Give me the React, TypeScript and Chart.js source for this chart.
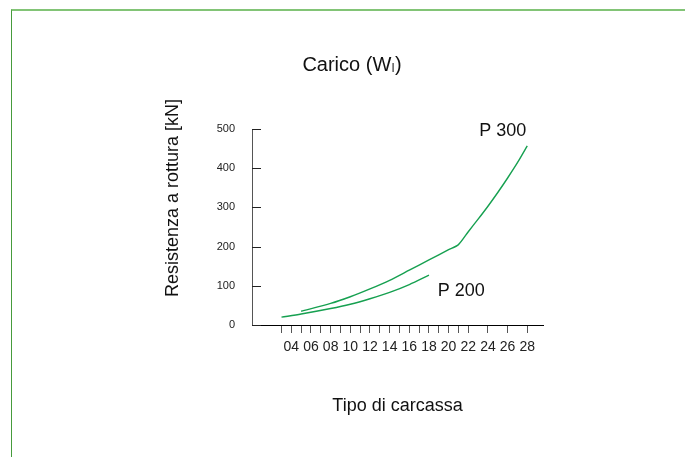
import React, { useEffect, useRef } from "react";
import { Chart, registerables } from "chart.js";

Chart.register(...registerables);

// ---- data ----
const P300_X = [5, 8, 10, 12, 14, 16, 18, 20, 21, 22, 23, 24, 25, 26, 27, 28];
const P300_Y = [35, 55, 72, 92, 114, 140, 166, 192, 205, 238, 270, 303, 338, 375, 414, 457];
const P200_X = [3, 5, 8, 10, 12, 14, 16, 18];
const P200_Y = [20, 28, 42, 53, 67, 83, 103, 127];
const X_TICKS = [3, 4, 5, 6, 7, 8, 9, 10, 11, 12, 13, 14, 15, 16, 17, 18, 19, 20, 21, 22, 24, 26, 28];
const Y_TICKS = [0, 100, 200, 300, 400, 500];

const TITLE_MAIN = "Carico (W";
const TITLE_SUB = "l";
const TITLE_END = ")";
const Y_TITLE = "Resistenza a rottura [kN]";
const X_TITLE = "Tipo di carcassa";
const LABEL_P300 = "P 300";
const LABEL_P200 = "P 200";

const GREEN = "rgb(22,160,80)";
const SANS = '"Liberation Sans", Arial, Helvetica, sans-serif';
const NARROW = '"Liberation Sans Narrow", "Arial Narrow", "Liberation Sans", sans-serif';

const yTickPlugin = {
  id: "innerYTicks",
  afterDatasetsDraw(chart: any) {
    const { ctx, chartArea, scales } = chart;
    const y = scales.y;
    ctx.save();
    ctx.strokeStyle = "#222";
    ctx.lineWidth = 1;
    ctx.beginPath();
    Y_TICKS.forEach((v) => {
      const py = Math.round(y.getPixelForValue(v)) + 0.5;
      ctx.moveTo(chartArea.left, py);
      ctx.lineTo(chartArea.left + 9, py);
    });
    ctx.stroke();
    ctx.restore();
  },
};

const textPlugin = {
  id: "annotText",
  afterDraw(chart: any) {
    const { ctx, chartArea, scales } = chart;
    const x = scales.x;
    const y = scales.y;
    ctx.save();
    ctx.fillStyle = "#111";
    ctx.textBaseline = "alphabetic";

    // curve labels
    ctx.font = "18px " + SANS;
    ctx.textAlign = "right";
    ctx.fillText(LABEL_P300, x.getPixelForValue(27.9), y.getPixelForValue(483));
    ctx.textAlign = "left";
    ctx.fillText(LABEL_P200, x.getPixelForValue(18.9), y.getPixelForValue(75));

    // title with subscript
    const big = "20px " + SANS;
    const small = "12px " + SANS;
    ctx.font = big;
    const w1 = ctx.measureText(TITLE_MAIN).width;
    const w3 = ctx.measureText(TITLE_END).width;
    ctx.font = small;
    const w2 = ctx.measureText(TITLE_SUB).width + 1;
    const total = w1 + w2 + w3;
    const cx = chartArea.left + 100;
    const by = chartArea.top - 58;
    let sx = cx - total / 2;
    ctx.textAlign = "left";
    ctx.font = big;
    ctx.fillText(TITLE_MAIN, sx, by);
    sx += w1;
    ctx.font = small;
    ctx.fillText(TITLE_SUB, sx + 0.5, by + 1);
    sx += w2;
    ctx.font = big;
    ctx.fillText(TITLE_END, sx, by);

    // axis titles
    ctx.font = "18px " + SANS;
    ctx.textAlign = "center";
    ctx.fillText(X_TITLE, (chartArea.left + chartArea.right) / 2, chartArea.bottom + 86);

    ctx.translate(chartArea.left - 74, chartArea.top + 69);
    ctx.rotate(-Math.PI / 2);
    ctx.fillText(Y_TITLE, 0, 0);
    ctx.restore();
  },
};

export default function App() {
  const ref = useRef<HTMLCanvasElement | null>(null);

  useEffect(() => {
    if (!ref.current) return;
    const chart = new Chart(ref.current, {
      type: "scatter",
      data: {
        datasets: [
          {
            label: LABEL_P300,
            data: P300_X.map((v, i) => ({ x: v, y: P300_Y[i] })),
            showLine: true,
            borderColor: GREEN,
            borderWidth: 1.4,
            pointRadius: 0,
            tension: 0.25,
          },
          {
            label: LABEL_P200,
            data: P200_X.map((v, i) => ({ x: v, y: P200_Y[i] })),
            showLine: true,
            borderColor: GREEN,
            borderWidth: 1.4,
            pointRadius: 0,
            tension: 0.3,
          },
        ],
      },
      options: {
        responsive: false,
        animation: false,
        layout: { padding: { left: 212, right: 142, top: 129, bottom: 92 } },
        plugins: { legend: { display: false }, tooltip: { enabled: false }, title: { display: false } },
        scales: {
          x: {
            type: "linear",
            min: 0,
            max: 29.6,
            afterFit(scale: any) {
              scale.height = 40;
            },
            afterBuildTicks(scale: any) {
              scale.ticks = X_TICKS.map((v) => ({ value: v }));
            },
            border: { display: true, color: "#000", width: 1 },
            grid: { display: true, drawOnChartArea: false, drawTicks: true, tickLength: 8, color: "#555", lineWidth: 1 },
            ticks: {
              autoSkip: false,
              maxRotation: 0,
              padding: 6,
              color: "#222",
              font: { family: NARROW, size: 14 },
              callback: (v: any) => (v % 2 === 0 && v >= 4 ? String(v).padStart(2, "0") : ""),
            },
          },
          y: {
            type: "linear",
            min: 0,
            max: 500,
            afterFit(scale: any) {
              scale.width = 40;
            },
            afterBuildTicks(scale: any) {
              scale.ticks = Y_TICKS.map((v) => ({ value: v }));
            },
            border: { display: true, color: "#555", width: 1 },
            grid: { display: false, drawOnChartArea: false, drawTicks: false },
            ticks: {
              padding: 17,
              color: "#222",
              font: { family: SANS, size: 11 },
            },
          },
        },
      },
      plugins: [yTickPlugin, textPlugin],
    } as any);
    return () => chart.destroy();
  }, []);

  return (
    <div style={{ position: "fixed", left: 0, top: 0, width: 685, height: 457, background: "#fff" }}>
      <div
        style={{
          position: "absolute",
          left: 11,
          top: 9,
          right: 0,
          bottom: 0,
          borderTop: "2px solid rgb(130,196,118)",
          borderLeft: "1px solid rgb(70,155,60)",
        }}
      />
      <canvas ref={ref} width={685} height={457} style={{ position: "absolute", left: 0, top: 0 }} />
    </div>
  );
}
